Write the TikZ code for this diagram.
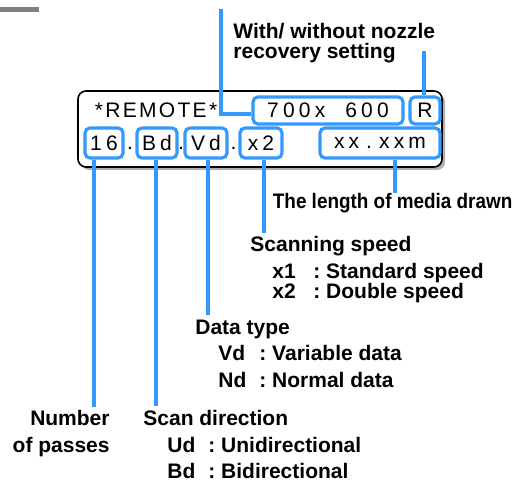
\documentclass[tikz,border=0pt]{standalone}
\usepackage{fontspec}
\setmainfont{Liberation Sans}
\newfontfamily\lcdfont[LetterSpace=20]{Liberation Sans}
\newfontfamily\lcdtight[LetterSpace=11]{Liberation Sans}
\usepackage{graphicx}
\usepackage{tikz}
\usetikzlibrary{calc,shadows}
\definecolor{leadblue}{RGB}{51,153,255}
\definecolor{shadowgray}{RGB}{175,175,175}
\definecolor{tabgray}{RGB}{128,128,128}
\newcommand{\codekey}[1]{\makebox[20.5pt][l]{#1}:\ }

\begin{document}
\begin{tikzpicture}[x=0.5pt, y=-0.5pt,
  panel/.style={draw, line width=0.8pt, fill=white, rounded corners=4pt, minimum width=182pt, minimum height=38pt, drop shadow={shadow xshift=1.5pt, shadow yshift=-1.5pt, fill=shadowgray, opacity=1}},
  seg/.style={draw=leadblue, line width=1.6pt, rounded corners=2.5pt, inner sep=0pt, minimum height=15pt, font=\lcdfont\fontsize{10.5}{12}\selectfont},
  lcd/.style={inner sep=0pt, anchor=base, font=\lcdfont\fontsize{10.5}{12}\selectfont},
  lead/.style={draw=leadblue, line width=2pt},
  lbl/.style={inner sep=0pt, anchor=base west, font=\bfseries\fontsize{10.5}{12}\selectfont}
]
\useasboundingbox (0,0) rectangle (517,480);
\fill[tabgray] (0,7) rectangle (39,12);

\coordinate (resend) at (221,9);
\coordinate (rcvend) at (424,51);
\coordinate (passend) at (94,407);
\coordinate (dirend) at (156,406);
\coordinate (dtypeend) at (208,315);
\coordinate (speedend) at (264,233);
\coordinate (lenend) at (395,193);

% display panel
\node[panel] (panel) at (260,129) {};
\node[lcd, font=\lcdtight\fontsize{10.5}{12}\selectfont] (remote) at (156,118) {*REMOTE*};
\node[seg, minimum width=75pt, minimum height=13.5pt] (res) at (328,110.5) {700x\ \ 600};
\node[seg, minimum width=15pt, minimum height=13.5pt] (rcv) at (425,110.5) {R};

\node[seg, minimum width=19pt] (pass) at (104,143) {16};
\node[lcd] (dot1) at (130,150) {.};
\node[seg, minimum width=20pt] (dir) at (157,143) {Bd};
\node[lcd] (dot2) at (181,150) {.};
\node[seg, minimum width=21pt] (dtype) at (206,143) {Vd};
\node[lcd] (dot3) at (233.5,150) {.};
\node[seg, minimum width=21pt] (speed) at (261,143) {x2};
\node[seg, minimum width=60pt] (len) at (380,143) {xx\kern3.5pt.\kern3.5pt xxm};

% leaders
\draw[lead] ([yshift=-2pt]res.west) -| (resend);
\draw[lead] (rcv.north -| rcvend) -- (rcvend);
\draw[lead] (pass.south -| passend) -- (passend);
\draw[lead] (dir.south -| dirend) -- (dirend);
\draw[lead] (dtype.south -| dtypeend) -- (dtypeend);
\draw[lead] (speed.south -| speedend) -- (speedend);
\draw[lead] (len.south -| lenend) -- (lenend);

% labels
\node[lbl] (nozzlea) at (233,39) {With/ without nozzle};
\node[lbl] (nozzleb) at (233,59) {recovery setting};
\node[lbl] (lenlbl) at (272.5,208) {\scalebox{0.9}[1]{The length of media drawn}};
\node[lbl] (speedlbl) at (250,251) {Scanning speed};
\node[lbl] (speedx1) at (272,278) {\codekey{x1}Standard speed};
\node[lbl] (speedx2) at (272,298) {\codekey{x2}Double speed};
\node[lbl] (dtypelbl) at (195,334) {Data type};
\node[lbl] (dtypevd) at (218,360) {\codekey{Vd}Variable data};
\node[lbl] (dtypend) at (218,387) {\codekey{Nd}Normal data};
\node[lbl, anchor=base east] (passlbla) at (110,425) {Number};
\node[lbl, anchor=base east] (passlblb) at (110,452) {of passes};
\node[lbl] (dirlbl) at (143,425) {Scan direction};
\node[lbl] (dirud) at (167,452) {\codekey{Ud}Unidirectional};
\node[lbl] (dirbd) at (167,478) {\codekey{Bd}Bidirectional};
\end{tikzpicture}
\end{document}
